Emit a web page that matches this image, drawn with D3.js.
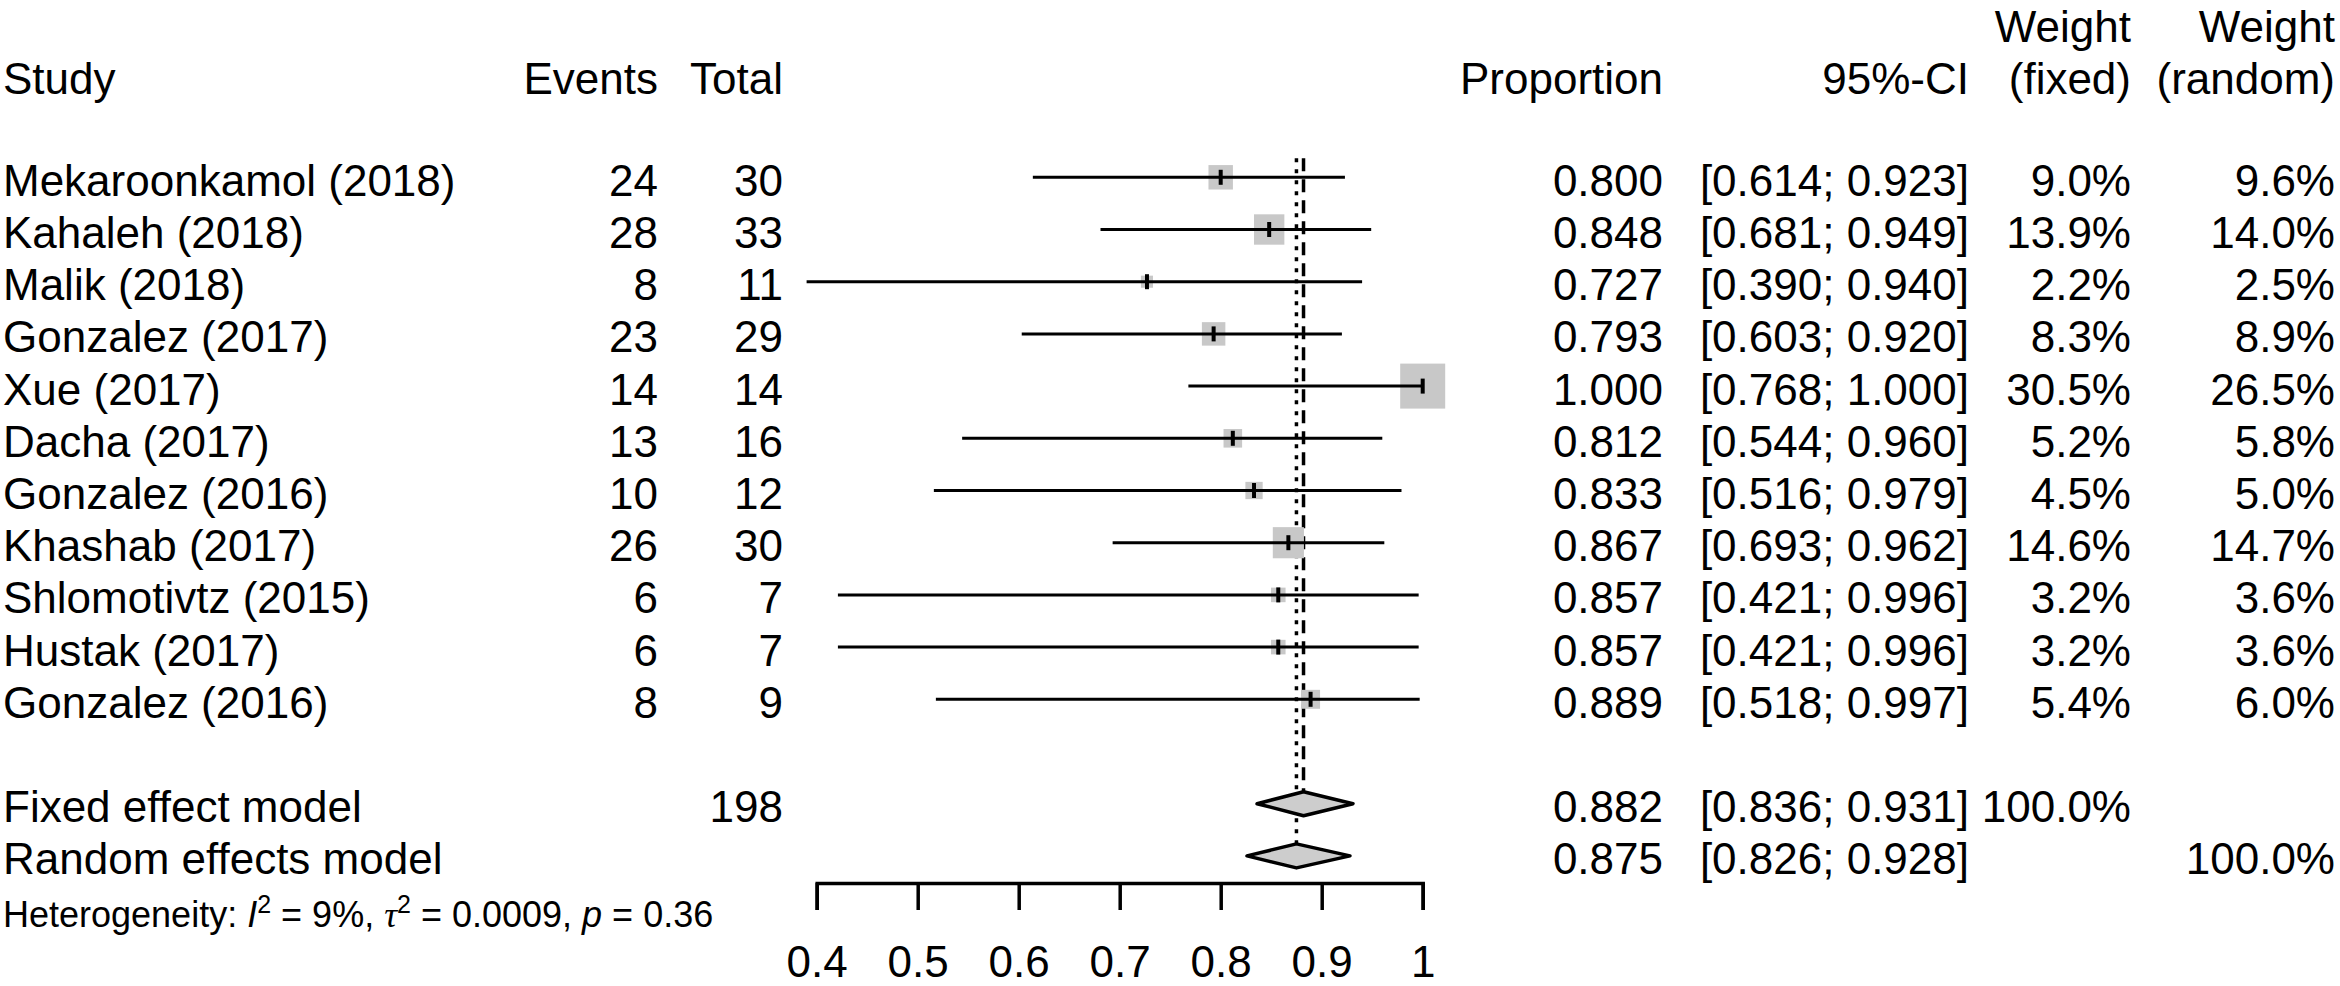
<!DOCTYPE html>
<meta charset="UTF-8">
<html>
	<head>
		<script src="https://d3js.org/d3.v7.min.js"></script>
		<style>
			body
			{
				margin: 0;
				background: #ffffff;
			}
			.Forest text
			{
				font-family: "Liberation Sans", Arial, Helvetica, sans-serif;
				fill: #000000;
			}
		</style>
	</head>
	<body>
		<svg class="Forest"></svg>
		<script type="text/javascript">
			// study rows
			var Studies = ["Mekaroonkamol (2018)", "Kahaleh (2018)", "Malik (2018)", "Gonzalez (2017)", "Xue (2017)",
							"Dacha (2017)", "Gonzalez (2016)", "Khashab (2017)", "Shlomotivtz (2015)", "Hustak (2017)", "Gonzalez (2016)"];
			var Events = [24, 28, 8, 23, 14, 13, 10, 26, 6, 6, 8];
			var Totals = [30, 33, 11, 29, 14, 16, 12, 30, 7, 7, 9];
			var Proportion = [0.800, 0.848, 0.727, 0.793, 1.000, 0.812, 0.833, 0.867, 0.857, 0.857, 0.889];
			var Lower = [0.614, 0.681, 0.390, 0.603, 0.768, 0.544, 0.516, 0.693, 0.421, 0.421, 0.518];
			var Upper = [0.923, 0.949, 0.940, 0.920, 1.000, 0.960, 0.979, 0.962, 0.996, 0.996, 0.997];
			var WeightFixed = [9.0, 13.9, 2.2, 8.3, 30.5, 5.2, 4.5, 14.6, 3.2, 3.2, 5.4];
			var WeightRandom = [9.6, 14.0, 2.5, 8.9, 26.5, 5.8, 5.0, 14.7, 3.6, 3.6, 6.0];

			// pooled rows
			var ModelNames = ["Fixed effect model", "Random effects model"];
			var ModelTotal = [198, null];
			var ModelEst = [0.882, 0.875];
			var ModelLower = [0.836, 0.826];
			var ModelUpper = [0.931, 0.928];
			var ModelWFixed = ["100.0%", ""];
			var ModelWRandom = ["", "100.0%"];

			var AxisTicks = [0.4, 0.5, 0.6, 0.7, 0.8, 0.9, 1];
			var AxisTickLabels = ["0.4", "0.5", "0.6", "0.7", "0.8", "0.9", "1"];

			var Width = 2340;
			var Height = 986;
			var FontSize = 44;

			var Svg = d3.select(".Forest").attr("width", Width).attr("height", Height);

			var XScale = d3.scaleLinear().domain([0.4, 1]).range([816.7, 1422.7]);
			// row index -> centre y
			var YScale = d3.scaleLinear().domain([0, 1]).range([177.3, 229.5]);
			var SizeScale = d3.scaleSqrt().domain([0, d3.max(WeightFixed)]).range([0, 45]);

			var Col = {"Study":3, "Events":658, "Total":783, "Prop":1663, "CI":1969, "WFixed":2131, "WRandom":2335};

			function AddText(x, y, s, anchor, size)
			{
				return Svg.append("text")
					.attr("x", x)
					.attr("y", y + (size || FontSize) * 0.42)
					.attr("text-anchor", anchor || "start")
					.style("font-size", (size || FontSize) + "px")
					.text(s);
			}
			function Fmt3(v){ return d3.format(".3f")(v); }
			function FmtCI(a, b){ return "[" + Fmt3(a) + "; " + Fmt3(b) + "]"; }
			function FmtW(v){ return d3.format(".1f")(v) + "%"; }

			// headers
			var H1 = 24, H2 = 76;
			AddText(Col.Study, H2, "Study");
			AddText(Col.Events, H2, "Events", "end");
			AddText(Col.Total, H2, "Total", "end");
			AddText(Col.Prop, H2, "Proportion", "end");
			AddText(Col.CI, H2, "95%-CI", "end");
			AddText(Col.WFixed, H1, "Weight", "end");
			AddText(Col.WFixed, H2, "(fixed)", "end");
			AddText(Col.WRandom, H1, "Weight", "end");
			AddText(Col.WRandom, H2, "(random)", "end");

			var FixedRow = Studies.length + 1;
			var RandomRow = Studies.length + 2;
			var Half = 12;

			// reference lines (drawn first so squares sit on top)
			var TopY = YScale(0) - 19;
			Svg.append("line")
				.attr("x1", XScale(ModelEst[1])).attr("x2", XScale(ModelEst[1]))
				.attr("y1", TopY).attr("y2", YScale(RandomRow) - Half)
				.attr("stroke", "#000").attr("stroke-width", 3.5)
				.attr("stroke-dasharray", "4,7");
			Svg.append("line")
				.attr("x1", XScale(ModelEst[0])).attr("x2", XScale(ModelEst[0]))
				.attr("y1", TopY).attr("y2", YScale(FixedRow) - Half)
				.attr("stroke", "#000").attr("stroke-width", 3.5)
				.attr("stroke-dasharray", "13,8");

			// studies
			var Rows = Svg.selectAll("g.Row")
				.data(Studies.map(function(d, i){ return i; }))
				.enter()
				.append("g")
				.attr("class", "Row");

			Rows.append("rect")
				.attr("x", function(i){ return XScale(Proportion[i]) - SizeScale(WeightFixed[i]) / 2; })
				.attr("y", function(i){ return YScale(i) - SizeScale(WeightFixed[i]) / 2; })
				.attr("width", function(i){ return SizeScale(WeightFixed[i]); })
				.attr("height", function(i){ return SizeScale(WeightFixed[i]); })
				.attr("fill", "#c8c8c8");

			Rows.append("line")
				.attr("x1", function(i){ return XScale(Lower[i]); })
				.attr("x2", function(i){ return XScale(Upper[i]); })
				.attr("y1", function(i){ return YScale(i); })
				.attr("y2", function(i){ return YScale(i); })
				.attr("stroke", "#000").attr("stroke-width", 3);

			Rows.append("line")
				.attr("x1", function(i){ return XScale(Proportion[i]); })
				.attr("x2", function(i){ return XScale(Proportion[i]); })
				.attr("y1", function(i){ return YScale(i) - 7.5; })
				.attr("y2", function(i){ return YScale(i) + 7.5; })
				.attr("stroke", "#000").attr("stroke-width", 4);

			Studies.forEach(function(s, i)
			{
				var y = YScale(i);
				AddText(Col.Study, y, s);
				AddText(Col.Events, y, Events[i], "end");
				AddText(Col.Total, y, Totals[i], "end");
				AddText(Col.Prop, y, Fmt3(Proportion[i]), "end");
				AddText(Col.CI, y, FmtCI(Lower[i], Upper[i]), "end");
				AddText(Col.WFixed, y, FmtW(WeightFixed[i]), "end");
				AddText(Col.WRandom, y, FmtW(WeightRandom[i]), "end");
			});

			// pooled diamonds
			ModelNames.forEach(function(s, k)
			{
				var y = YScale(FixedRow + k);
				var pts = [[XScale(ModelLower[k]), y], [XScale(ModelEst[k]), y - Half],
							[XScale(ModelUpper[k]), y], [XScale(ModelEst[k]), y + Half]];
				Svg.append("path")
					.attr("d", d3.line()(pts) + "Z")
					.attr("fill", "#cdcdcd")
					.attr("stroke", "#000").attr("stroke-width", 3.5)
					.attr("stroke-linejoin", "round");
				AddText(Col.Study, y, s);
				if (ModelTotal[k] !== null) AddText(Col.Total, y, ModelTotal[k], "end");
				AddText(Col.Prop, y, Fmt3(ModelEst[k]), "end");
				AddText(Col.CI, y, FmtCI(ModelLower[k], ModelUpper[k]), "end");
				AddText(Col.WFixed, y, ModelWFixed[k], "end");
				AddText(Col.WRandom, y, ModelWRandom[k], "end");
			});

			// heterogeneity line
			var Het = AddText(Col.Study, YScale(RandomRow + 1) + 4, "", "start", 36);
			Het.append("tspan").text("Heterogeneity: ");
			Het.append("tspan").style("font-style", "italic").text("I");
			Het.append("tspan").attr("dy", -14).style("font-size", "25px").text("2");
			Het.append("tspan").attr("dy", 14).text(" = 9%, ");
			Het.append("tspan").style("font-family", "'Liberation Serif', serif").style("font-style", "italic").text("τ");
			Het.append("tspan").attr("dy", -14).style("font-size", "25px").text("2");
			Het.append("tspan").attr("dy", 14).text(" = 0.0009, ");
			Het.append("tspan").style("font-style", "italic").text("p");
			Het.append("tspan").text(" = 0.36");

			// x axis
			var Axis = Svg.append("g")
				.attr("transform", "translate(0,883)")
				.call(d3.axisBottom(XScale)
					.tickValues(AxisTicks)
					.tickFormat(function(d, i){ return AxisTickLabels[i]; })
					.tickSize(27)
					.tickPadding(36));
			Axis.select(".domain").attr("stroke", "#000").attr("stroke-width", 3.5);
			Axis.selectAll(".tick line").attr("stroke", "#000").attr("stroke-width", 3.5);
			Axis.selectAll(".tick text")
				.style("font-size", FontSize + "px")
				.style("font-family", "'Liberation Sans', Arial, sans-serif")
				.attr("fill", "#000");
		</script>
	</body>
</html>
